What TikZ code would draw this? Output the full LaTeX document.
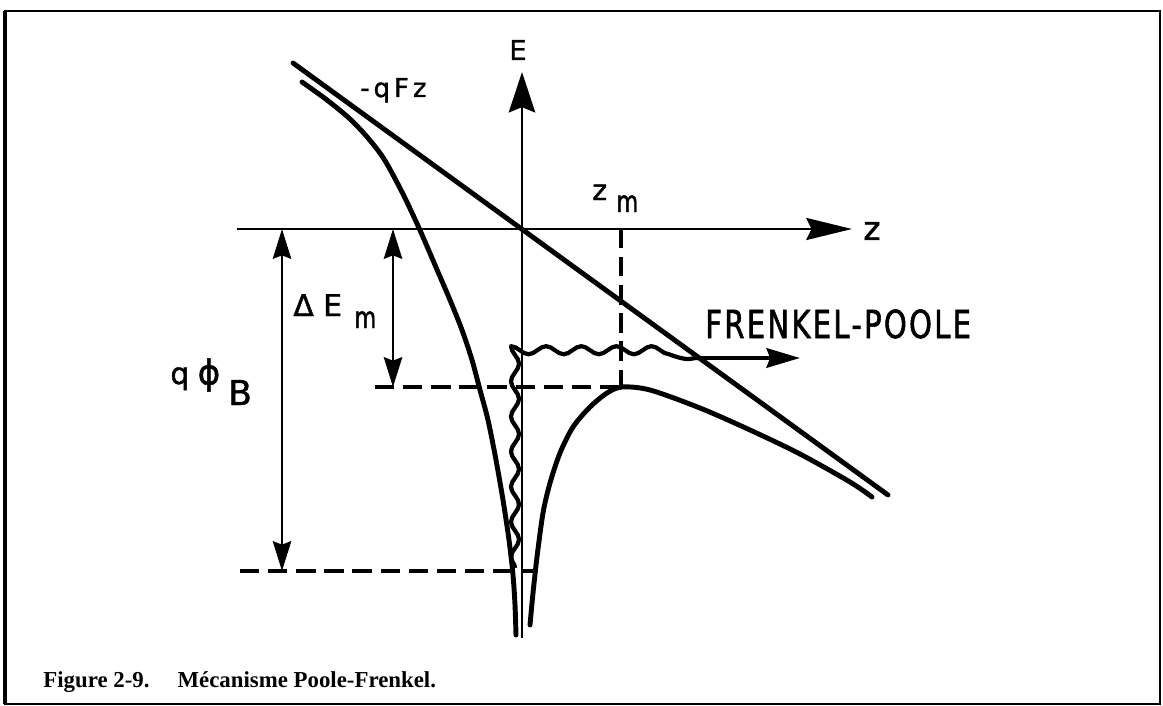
\documentclass[tikz,border=0pt]{standalone}
\usepackage{fontspec}
\setmainfont{Liberation Serif}
\newfontfamily\lblfont{DejaVu Sans}[FakeBold=1.4, AutoFakeBold=1.4]
\newfontfamily\narrowfont{DejaVu Sans}[FakeStretch=0.75, FakeBold=1.4, AutoFakeBold=1.4]
\usetikzlibrary{arrows.meta, decorations.pathmorphing}

\begin{document}
\begin{tikzpicture}[
  x=0.02cm, y=-0.02cm,
  axis/.style={line width=1.6pt},
  curve/.style={line width=2.8pt, line cap=round},
  guide/.style={line width=1.8pt, dash pattern=on 11pt off 5pt},
  dim/.style={line width=1.1pt,
    {Stealth[length=17pt, width=10.5pt, inset=2pt]}-{Stealth[length=17pt, width=10.5pt, inset=2pt]}},
  lbl/.style={inner sep=0pt, font=\lblfont\bfseries\fontsize{17}{18}\selectfont},
  sub/.style={inner sep=0pt, anchor=base west, font=\narrowfont\bfseries\fontsize{17}{18}\selectfont},
  wave/.style={line width=2.4pt, line join=round, decorate,
    decoration={snake, amplitude=2.3pt, segment length=20pt}}
]
  \useasboundingbox (0,0) rectangle (1163,706);
  \draw[line width=1.2pt] (5,11) rectangle (1160,704);
  \draw[line width=2.2pt] (5,11) -- (5,704);

  % axes
  \coordinate (Ebot) at (522,638);
  \coordinate (Etop) at (522,72);
  \coordinate (zleft) at (237,229);
  \coordinate (zright) at (852,229);
  \draw[axis, -{Stealth[length=23pt, width=15pt, inset=3pt]}] (Ebot) -- (Etop);
  \draw[axis, -{Stealth[length=26pt, width=12.5pt, inset=3pt]}] (zleft) -- (zright);
  \node[lbl, font=\lblfont\bfseries\fontsize{15.6}{17}\selectfont] (Elbl) at (518,50) {E};
  \node[lbl, font=\lblfont\bfseries\fontsize{18.7}{20}\selectfont] (zlbl) at (872,231) {z};

  % field term
  \coordinate (fieldA) at (293,63);
  \coordinate (fieldB) at (888,495);
  \draw[curve] (fieldA) -- (fieldB);
  \node[lbl, anchor=base west, font=\lblfont\bfseries\fontsize{14.8}{16}\selectfont\addfontfeature{LetterSpace=15}]
    (qFz) at (360,97) {-qFz};

  % coulomb well
  \draw[curve] plot[smooth] coordinates {(302,82) (327,100) (350,119) (368,138) (384,159)
    (402,192) (419,228) (435,265) (450,300) (462,330) (472,360) (480,390) (488,420)
    (496,460) (503,500) (509,540) (513,575) (515,605) (516,635)};
  \draw[curve] plot[smooth] coordinates {(530,625) (533,593) (537,557) (543,513) (550,483)
    (560,453) (573,427) (590,407) (607,393) (622,387) (650,390) (700,408) (750,430)
    (800,454) (850,482) (872,497)};

  % levels
  \coordinate (zmtop) at (621,229);
  \coordinate (zmbot) at (621,387);
  \coordinate (barrier) at (375,387);
  \coordinate (wellL) at (240,571);
  \coordinate (wellR) at (533,571);
  \draw[guide] (zmtop) -- (zmbot);
  \draw[guide] (barrier) -- (zmbot);
  \draw[guide] (wellL) -- (wellR);
  \node[lbl, anchor=base west, font=\lblfont\bfseries\fontsize{16}{18}\selectfont] (zm) at (592,200) {z};
  \node[sub] (zmsub) at (616,212) {m};

  % heights
  \coordinate (phiT) at (282,229);
  \coordinate (phiB) at (282,571);
  \coordinate (dET) at (393,229);
  \coordinate (dEB) at (393,387);
  \draw[dim] (phiT) -- (phiB);
  \draw[dim] (dET) -- (dEB);
  \node[lbl, anchor=base west] (dE) at (293,316) {Δ E};
  \node[sub] (dEsub) at (354,328) {m};
  \node[lbl, anchor=base west] (qlbl) at (170,384) {q};
  \node[lbl, font=\lblfont\bfseries\fontsize{19.5}{22}\selectfont] (philbl) at (209,375) {ϕ};
  \node[lbl, anchor=base west, font=\lblfont\bfseries\fontsize{19.5}{22}\selectfont] (Blbl) at (228,405) {B};

  % emission path
  \coordinate (w0) at (515,568);
  \coordinate (w1) at (515,358);
  \coordinate (w2) at (700,358);
  \coordinate (w3) at (800,358);
  \draw[wave] (w0) -- (w1) -- (w2);
  \draw[line width=2.4pt, -{Stealth[length=19pt, width=11pt, inset=2pt]}] (w2) -- (w3);
  \node[lbl, anchor=base west, font=\narrowfont\bfseries\fontsize{22}{24}\selectfont\addfontfeature{LetterSpace=6}]
    (fp) at (705,338) {FRENKEL-POOLE};

  % caption
  \node[inner sep=0pt, anchor=base west, font=\bfseries\fontsize{13}{15}\selectfont]
    (caption) at (43,687) {Figure 2-9.\hspace{16pt}Mécanisme Poole-Frenkel.};
\end{tikzpicture}
\end{document}
